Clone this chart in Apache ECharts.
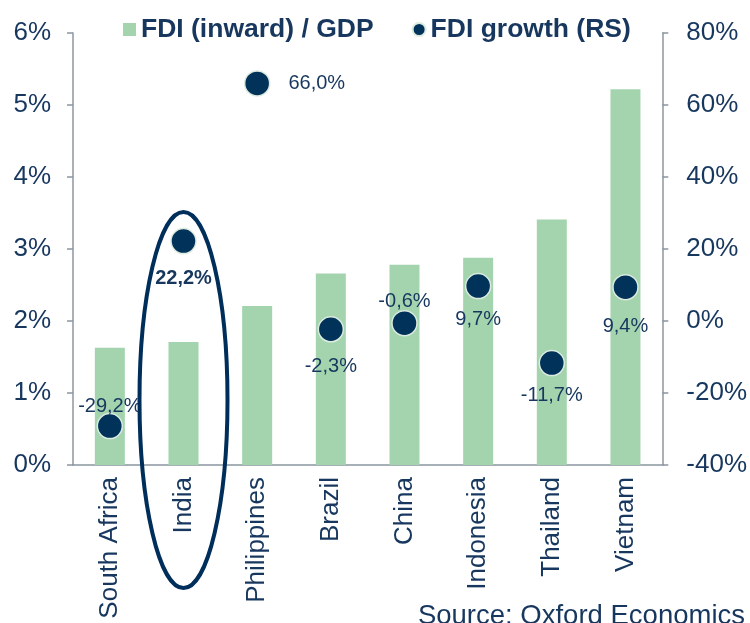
<!DOCTYPE html>
<html>
<head>
<meta charset="utf-8">
<script src="https://cdn.jsdelivr.net/npm/echarts@6/dist/echarts.min.js"></script>
<style>
  html, body { margin: 0; padding: 0; background: #ffffff; }
  #chart { width: 750px; height: 623px; }
</style>
</head>
<body>
<div id="chart"></div>
<script>
// data
const countries = ["South Africa", "India", "Philippines", "Brazil", "China", "Indonesia", "Thailand", "Vietnam"];
const fdiGdp = [1.63, 1.71, 2.21, 2.66, 2.78, 2.88, 3.41, 5.22];
const fdiGrowth = [-29.2, 22.2, 66.0, -2.3, -0.6, 9.7, -11.7, 9.4];

// label placement per point (style only)
const labelPlace = ["top", "bottom", "right", "bottom", "top", "bottom", "bottom", "bottom"];
const labelGap = [-4, 14, 18, 14, -2, 10, 9, 16];

const navy = "#17375e";
const axisGrey = "#8c96a0";
const font = "Liberation Sans, Arial, sans-serif";

const chart = echarts.init(document.getElementById("chart"));

const pct = v => v.toFixed(1).replace(".", ",") + "%";

chart.setOption({
  animation: false,
  textStyle: { fontFamily: font, color: navy },
  legend: {
    top: 11,
    left: 118,
    itemGap: 38,
    itemWidth: 13,
    itemHeight: 13,
    textStyle: { fontSize: 26.5, fontWeight: "bold", color: navy, fontFamily: font },
    data: [
      { name: "FDI (inward) / GDP", icon: "rect" },
      { name: "FDI growth (RS)", icon: "circle" }
    ]
  },
  grid: { left: 73, right: 86, top: 33, bottom: 158 },
  xAxis: {
    type: "category",
    data: countries,
    axisLine: { lineStyle: { color: axisGrey, width: 1.5 } },
    axisTick: { length: 5, lineStyle: { color: axisGrey, width: 1.5 } },
    axisLabel: {
      rotate: 90,
      fontSize: 26,
      color: navy,
      margin: 12,
      interval: 0
    }
  },
  yAxis: [
    {
      type: "value",
      min: 0, max: 6, interval: 1,
      axisLine: { show: true, lineStyle: { color: axisGrey, width: 1.5 } },
      axisTick: { show: true, length: 6, lineStyle: { color: axisGrey, width: 1.5 } },
      splitLine: { show: false },
      axisLabel: { formatter: "{value}%", fontSize: 26, color: navy, margin: 22 }
    },
    {
      type: "value",
      min: -40, max: 80, interval: 20,
      axisLine: { show: true, lineStyle: { color: axisGrey, width: 1.5 } },
      axisTick: { show: true, length: 6, lineStyle: { color: axisGrey, width: 1.5 } },
      splitLine: { show: false },
      axisLabel: { formatter: "{value}%", fontSize: 26, color: navy, margin: 24 }
    }
  ],
  series: [
    {
      name: "FDI (inward) / GDP",
      type: "bar",
      barWidth: 30,
      data: fdiGdp,
      itemStyle: { color: "#a3d4ae" }
    },
    {
      name: "FDI growth (RS)",
      type: "scatter",
      yAxisIndex: 1,
      symbolSize: 25,
      itemStyle: { color: "#00325a", opacity: 1, borderColor: "#dcebe0", borderWidth: 1.5 },
      data: fdiGrowth.map((v, i) => ({
        value: v,
        label: {
          position: labelPlace[i],
          distance: labelGap[i],
          fontWeight: i === 1 ? "bold" : "normal"
        }
      })),
      label: {
        show: true,
        fontSize: 20,
        color: navy,
        fontFamily: font,
        formatter: p => pct(p.value)
      }
    }
  ]
});

// ellipse highlighting India, centred on its category
const cx = chart.convertToPixel({ xAxisIndex: 0 }, "India");
chart.setOption({
  graphic: [
    {
      type: "ellipse",
      shape: { cx: cx, cy: 400, rx: 44, ry: 188 },
      style: { fill: "none", stroke: "#002e5b", lineWidth: 4 },
      z: 10
    },
    {
      type: "text",
      right: 5,
      top: 602,
      style: { text: "Source: Oxford Economics", fontSize: 27.5, fill: navy, fontFamily: font }
    }
  ]
});
</script>
</body>
</html>
